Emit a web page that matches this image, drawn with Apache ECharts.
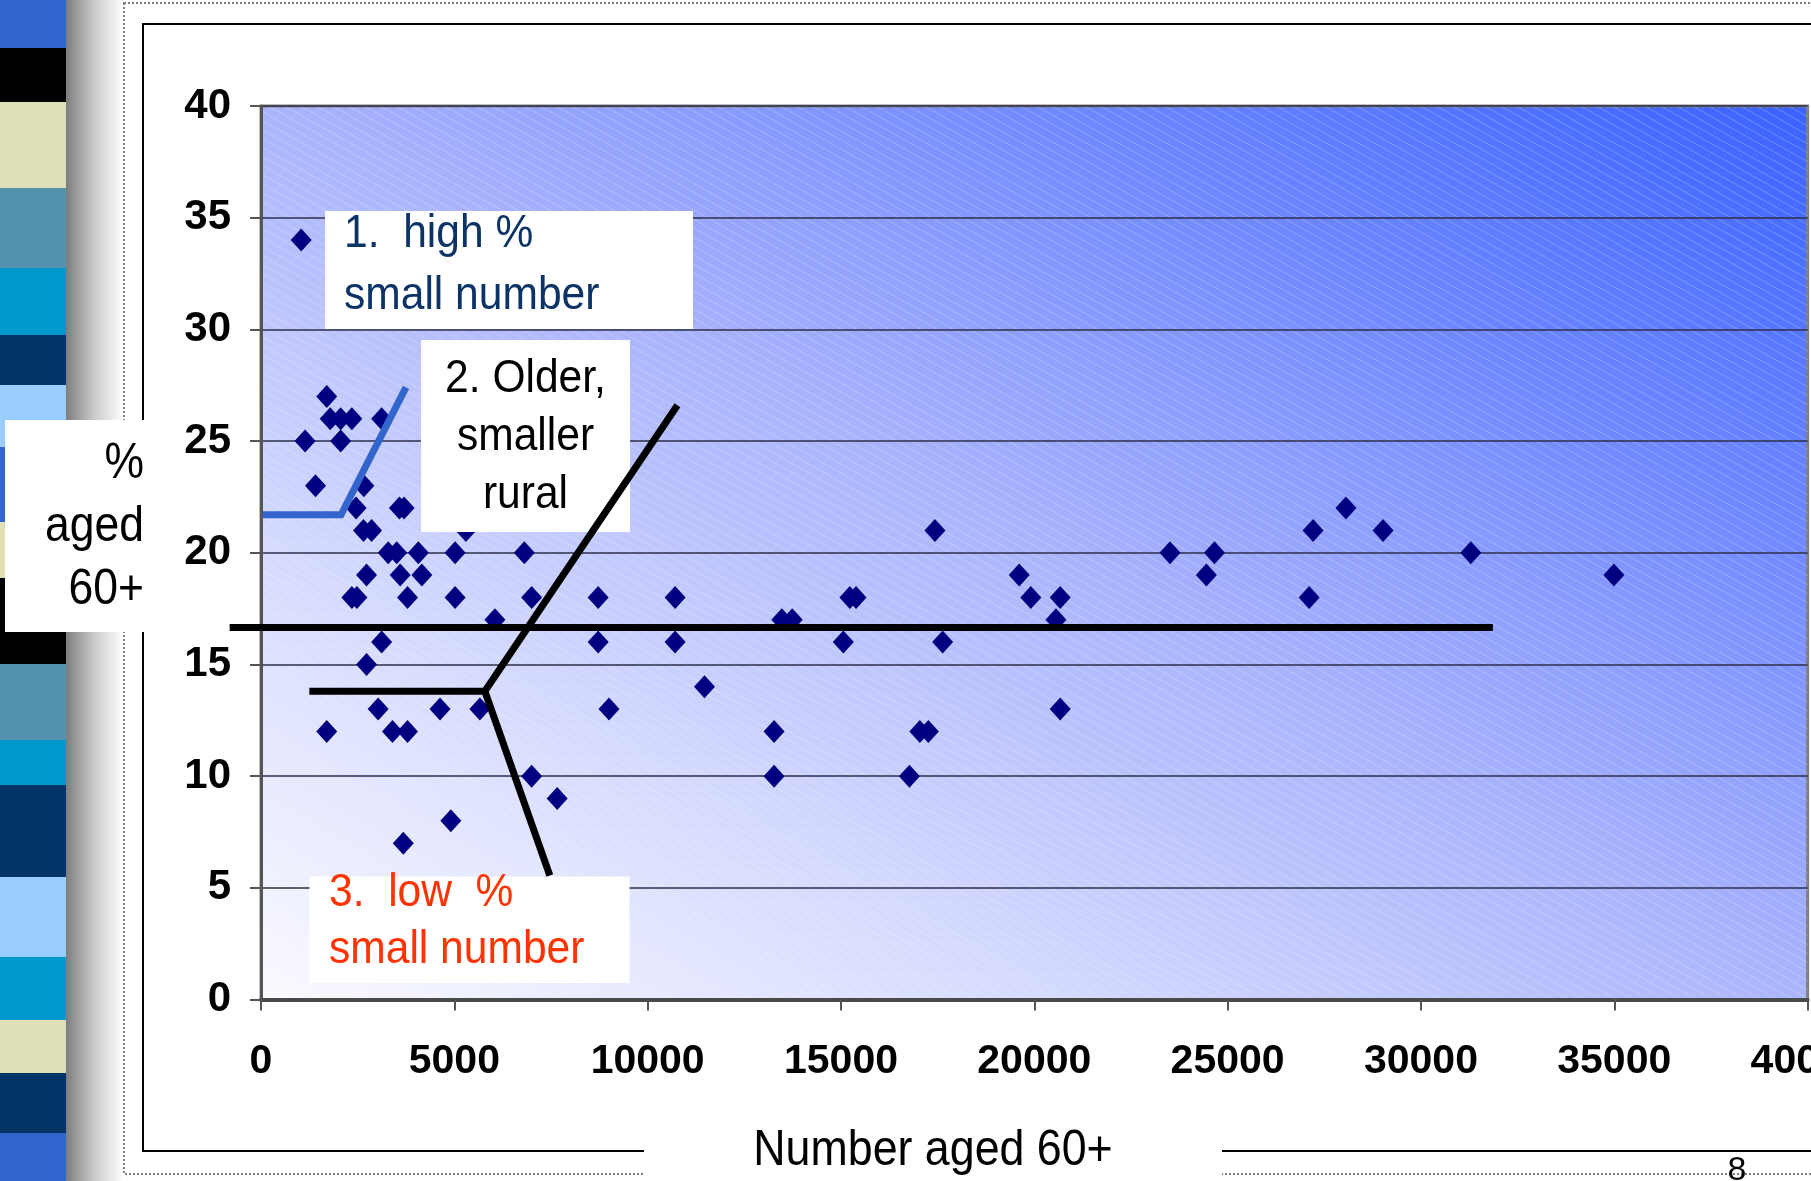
<!DOCTYPE html>
<html>
<head>
<meta charset="utf-8">
<script src="https://cdn.jsdelivr.net/npm/echarts@6/dist/echarts.min.js"></script>
<style>
html,body{margin:0;padding:0;background:#ffffff;}
#chart{width:1811px;height:1181px;}
</style>
</head>
<body>
<div id="chart"></div>
<script>
// ---- data ----
const numberAged60 = [
  1040, 1700, 1790, 2060, 2350, 3120, 1140, 2060, 1410, 2660,
  2460, 3580, 3700, 2650, 2860, 5300, 3290, 3510, 4070, 5020,
  6810, 2730, 3600, 4160, 2350, 2480, 3790, 5020, 7000, 8720,
  6050, 8720, 3120, 2730, 3030, 4630, 5660, 9000, 1700, 3400,
  3790, 7000, 7660, 4910, 3680, 17430, 10710, 13470, 13740, 15230,
  15390, 19610, 19910, 20670, 20560, 10710, 15060, 17630, 11470, 20670,
  13270, 17040, 17260, 13270, 16770, 23510, 24660, 24450, 27210, 27110,
  28060, 29020, 31290, 34990
];
const pctAged60 = [
  34, 27, 26, 26, 26, 26, 25, 25, 23, 23,
  22, 22, 22, 21, 21, 21, 20, 20, 20, 20,
  20, 19, 19, 19, 18, 18, 18, 18, 18, 18,
  17, 16, 16, 15, 13, 13, 13, 13, 12, 12,
  12, 10, 9, 8, 7, 21, 18, 17, 17, 18,
  18, 19, 18, 18, 17, 16, 16, 16, 14, 13,
  12, 12, 12, 10, 10, 20, 20, 19, 21, 18,
  22, 21, 20, 19
];
const xTicks = [0, 5000, 10000, 15000, 20000, 25000, 30000, 35000, 40000];
const yTicks = [0, 5, 10, 15, 20, 25, 30, 35, 40];

// hand-drawn divider lines of the slide, in data units
const blueBracket = [[40, 21.7], [2070, 21.7], [3750, 27.4]];
const blackHorizontal = [[-810, 16.65], [31860, 16.65]];
const blackJunctionUp = [[1250, 13.8], [5790, 13.8], [10770, 26.6]];
const blackJunctionDown = [[5790, 13.8], [7470, 5.55]];

const xTitle = 'Number aged 60+';
const yTitle = '%\naged\n60+';
const note1 = '1.  high %\nsmall number';
const note2 = '2. Older,\nsmaller\nrural';
const note3 = '3.  low  %\nsmall number';

// ---- styling helpers ----
const SANS = "'Liberation Sans', Arial, sans-serif";

// diagonal hatch tile
const tile = document.createElement('canvas');
tile.width = 16; tile.height = 9;
(function(){
  const c = tile.getContext('2d');
  c.strokeStyle = 'rgba(255,255,255,0.24)';
  c.lineWidth = 1;
  for (const dx of [-16, 0, 16]) {
    for (const dy of [-9, 0, 9]) {
      c.beginPath(); c.moveTo(dx, dy); c.lineTo(dx + 16, dy + 9); c.stroke();
    }
  }
})();

const G = {left: 261, top: 106, width: 1546.6, height: 893.5};

const bands = [
  [0,48,'#3366cc'],[48,102,'#000000'],[102,188,'#e0e0b8'],[188,268,'#5592ad'],
  [268,335,'#0099cc'],[335,385,'#003366'],[385,447,'#99ccff'],[447,522,'#3366cc'],
  [522,578,'#e0e0b8'],[578,664,'#000000'],[664,740,'#5592ad'],[740,785,'#0099cc'],
  [785,877,'#003366'],[877,957,'#99ccff'],[957,1020,'#0099cc'],[1020,1073,'#e0e0b8'],
  [1073,1133,'#003366'],[1133,1181,'#3366cc']
];

const graphics = [];
bands.forEach(b => graphics.push({type:'rect', silent:true, z:0,
  shape:{x:0, y:b[0], width:70, height:b[1]-b[0]}, style:{fill:b[2]}}));
graphics.push({type:'rect', silent:true, z:0, shape:{x:66, y:0, width:58, height:1181},
  style:{fill:{type:'linear', x:0, y:0, x2:1, y2:0, colorStops:[
    {offset:0, color:'#7d7d7d'},{offset:0.5, color:'#cdcdcd'},{offset:1, color:'#ffffff'}]}}});
// slide frames
graphics.push({type:'rect', silent:true, z:1, shape:{x:124, y:3, width:1720, height:1171},
  style:{fill:'none', stroke:'#808080', lineWidth:2, lineDash:[2,2]}});
graphics.push({type:'rect', silent:true, z:1, shape:{x:143, y:24, width:1700, height:1127},
  style:{fill:'none', stroke:'#000000', lineWidth:2}});
// hatch over plot background
graphics.push({type:'rect', silent:true, z:0, shape:{x:G.left, y:G.top, width:G.width, height:G.height},
  style:{fill:{image: tile, repeat:'repeat'}}});
// axis titles
graphics.push({type:'rect', silent:true, z:3, shape:{x:644, y:1125, width:578, height:56}, style:{fill:'#ffffff'}});
graphics.push({type:'text', silent:true, z:4, x:933, y:1151, scaleX:0.895,
  style:{text:xTitle, fontFamily:SANS, fontSize:50, fill:'#000000', align:'center', verticalAlign:'middle'}});
graphics.push({type:'rect', silent:true, z:3, shape:{x:5, y:420, width:142, height:212}, style:{fill:'#ffffff'}});
graphics.push({type:'text', silent:true, z:4, x:144, y:433, scaleX:0.89,
  style:{text:yTitle, fontFamily:SANS, fontSize:50, lineHeight:63, fill:'#000000', align:'right', verticalAlign:'top'}});
// annotation boxes
graphics.push({type:'rect', silent:true, z:3, shape:{x:325, y:211, width:368, height:118}, style:{fill:'#ffffff'}});
graphics.push({type:'text', silent:true, z:4, x:344, y:203, scaleX:0.925,
  style:{text:note1, fontFamily:SANS, fontSize:46, lineHeight:62, fill:'#0b3366', align:'left', verticalAlign:'top'}});
graphics.push({type:'rect', silent:true, z:3, shape:{x:421, y:340, width:209, height:192}, style:{fill:'#ffffff'}});
graphics.push({type:'text', silent:true, z:4, x:525.5, y:350, scaleX:0.925,
  style:{text:note2, fontFamily:SANS, fontSize:46, lineHeight:58, fill:'#000000', align:'center', verticalAlign:'top'}});
graphics.push({type:'rect', silent:true, z:3, shape:{x:309.5, y:876.5, width:320, height:106.5}, style:{fill:'#ffffff'}});
graphics.push({type:'text', silent:true, z:4, x:329, y:864.5, scaleX:0.925,
  style:{text:note3, fontFamily:SANS, fontSize:46, lineHeight:57, fill:'#ff3300', align:'left', verticalAlign:'top'}});
// slide number
graphics.push({type:'text', silent:true, z:4, x:1737, y:1154,
  style:{text:'8', fontFamily:SANS, fontSize:34, fill:'#000000', align:'center', verticalAlign:'top'}});

const chart = echarts.init(document.getElementById('chart'), null, {renderer:'canvas'});

// divider shapes drawn through the chart's own coordinate system (not clipped to the plot)
const dividerSeries = (points, color) => ({
  type:'custom', silent:true, z:5, clip:false, data:[0],
  renderItem:(params, api) => ({
    type:'polyline',
    shape:{points: points.map(p => api.coord(p))},
    style:{stroke:color, lineWidth:7, fill:'none', lineCap:'butt', lineJoin:'miter'}
  })
});

chart.setOption({
  animation:false,
  backgroundColor:'#ffffff',
  grid:{
    left:G.left, top:G.top, width:G.width, height:G.height,
    containLabel:false, outerBoundsMode:'none',
    show:true, borderColor:'#808080', borderWidth:3,
    backgroundColor:{type:'linear', x:0.25, y:1.25, x2:0.75, y2:-0.25, colorStops:[
      {offset:0, color:'#fafaff'},{offset:0.25, color:'#d6dbfe'},{offset:0.5, color:'#abb5fc'},
      {offset:0.75, color:'#7089fe'},{offset:1, color:'#3a62ff'}]}
  },
  xAxis:{
    type:'value', min:xTicks[0], max:xTicks[xTicks.length-1], interval:xTicks[1]-xTicks[0],
    axisLine:{show:true, onZero:false, lineStyle:{color:'#4a4a4a', width:4}},
    axisTick:{show:true, inside:false, length:11, lineStyle:{color:'#555555', width:2}},
    splitLine:{show:false},
    axisLabel:{show:true, margin:42, color:'#000000', fontFamily:SANS, fontWeight:'bold', fontSize:41,
      showMinLabel:true, showMaxLabel:true, hideOverlap:false, formatter:v => String(v)}
  },
  yAxis:{
    type:'value', min:yTicks[0], max:yTicks[yTicks.length-1], interval:yTicks[1]-yTicks[0],
    axisLine:{show:true, onZero:false, lineStyle:{color:'#555555', width:3}},
    axisTick:{show:true, inside:false, length:11, lineStyle:{color:'#555555', width:2}},
    splitLine:{show:true, lineStyle:{color:'#2e2e48', width:1.5}},
    axisLabel:{show:true, margin:30, color:'#000000', fontFamily:SANS, fontWeight:'bold', fontSize:42,
      showMinLabel:true, showMaxLabel:true, formatter:v => String(v)}
  },
  graphic:{elements:graphics},
  series:[
    {
      type:'scatter', name:'% aged 60+',
      data:numberAged60.map((x,i)=>[x, pctAged60[i]]),
      symbol:'diamond', symbolSize:[21,23], silent:true, z:2,
      itemStyle:{color:'#000080', opacity:1}
    },
    dividerSeries(blueBracket, '#3366cc'),
    dividerSeries(blackHorizontal, '#000000'),
    dividerSeries(blackJunctionUp, '#000000'),
    dividerSeries(blackJunctionDown, '#000000')
  ]
});
</script>
</body>
</html>
